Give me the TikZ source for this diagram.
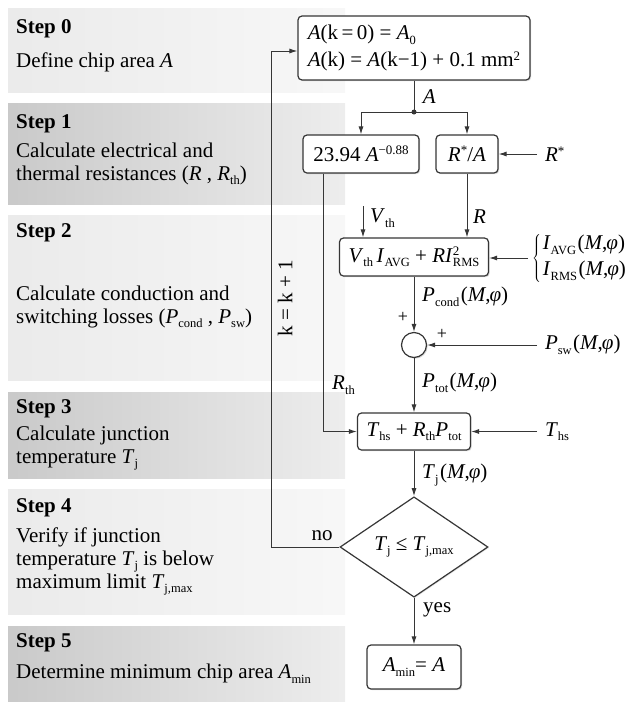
\documentclass[tikz,border=0pt]{standalone}
\usepackage{fontspec}
\setmainfont{Liberation Serif}
\usetikzlibrary{arrows.meta,positioning,shapes.geometric,shadows}

\definecolor{linegray}{HTML}{363636}
% italic variable, sub- and superscripts in the text font
\newcommand{\vr}[1]{\textit{#1}}
\newcommand{\low}[1]{\raisebox{-4.5pt}{\fontsize{12.5}{12.5}\selectfont #1}}
\newcommand{\up}[1]{\raisebox{6.5pt}{\fontsize{13}{13}\selectfont #1}}
\newcommand{\Mphi}{\kern1.5pt(\vr{M},\kern-1pt\vr{φ})}

\begin{document}
\begin{tikzpicture}[
    x=1pt, y=-1pt,
    font=\fontsize{21}{23}\selectfont,
    box/.style={draw=linegray, line width=1.2pt, rounded corners=4pt, fill=white, inner sep=0pt, align=center,
        drop shadow={shadow xshift=1.2pt, shadow yshift=-1.2pt, opacity=0.3}},
    arr/.style={-{Latex[length=8pt,width=5pt]}, line width=1pt, draw=linegray},
    wire/.style={line width=1pt, draw=linegray},
    lbl/.style={anchor=west, inner sep=0pt},
    inlbl/.style={anchor=west, inner sep=0pt, outer sep=8pt},
    darkband/.style={left color=black!21, right color=black!7},
    lightband/.style={left color=black!8, right color=black!3},
    steptitle/.style={font=\fontsize{21}{23}\selectfont\bfseries, anchor=base west, inner sep=0pt},
    stepdesc/.style={anchor=north west, inner sep=0pt, align=left},
]
\useasboundingbox (0,0) rectangle (629,702);

% Step bands
\fill[lightband] (8,8) rectangle (345,92);
\fill[darkband] (8,103) rectangle (345,204);
\fill[lightband] (8,215) rectangle (345,380);
\fill[darkband] (8,392) rectangle (345,478);
\fill[lightband] (8,489) rectangle (345,614);
\fill[darkband] (8,626) rectangle (345,702);

% Step texts
\node[steptitle] (t0) at (16,33) {Step 0};
\node[stepdesc] (d0) at (16,52.5) {Define chip area \vr{A}};
\node[steptitle] (t1) at (16,128) {Step 1};
\node[stepdesc] (d1) at (16,142.4) {Calculate electrical and\\thermal resistances (\vr{R} , \vr{R}\low{th})};
\node[steptitle] (t2) at (16,237) {Step 2};
\node[stepdesc] (d2) at (16,285.7) {Calculate conduction and\\switching losses (\vr{P}\low{cond} , \vr{P}\low{sw})};
\node[steptitle] (t3) at (16,413) {Step 3};
\node[stepdesc] (d3) at (16,425.7) {Calculate junction\\temperature \vr{T}\low{j}};
\node[steptitle] (t4) at (16,512) {Step 4};
\node[stepdesc] (d4) at (16,527.4) {Verify if junction\\temperature \vr{T}\low{j} is below\\maximum limit \vr{T}\low{j,max}};
\node[steptitle] (t5) at (16,647) {Step 5};
\node[stepdesc] (d5) at (16,664) {Determine minimum chip area \vr{A}\low{min}};

% Area update
\node[box, minimum width=232pt, minimum height=64pt, align=left] (init) at (414,48)
    {\vr{A}(k\,=\,0) = \vr{A}\low{0}\\[4pt]\vr{A}(k) = \vr{A}(k−1) + 0.1 mm\up{2}};
\coordinate (split) at (414,112);

% Resistances
\node[box, minimum width=116pt, minimum height=38pt] (resth) at (361,154) {23.94 \vr{A}\up{−0.88}};
\node[box, minimum width=62pt, minimum height=38pt] (relec) at (467,154) {\vr{R}\up{*}/\vr{A}};
\node[inlbl] (rstar) at (537,154) {\vr{R}\up{*}};

% Losses
\node[box, minimum width=149pt, minimum height=38pt] (pcond) at (414,257)
    {\vr{V}\low{th}\,\vr{I}\low{AVG} + \vr{RI}\rlap{\up{2}}\low{RMS}};
\node[inlbl, outer sep=4pt] (icur) at (528,258)
    {$\left\{\kern2pt\begin{tabular}{@{}l@{}}\vr{I}\low{AVG}\Mphi\\[3pt]\vr{I}\low{RMS}\Mphi\end{tabular}\right.$};
\coordinate (vthin) at (363,206);
\node[lbl] (vth) at (370,218) {\vr{V}\low{th}};
\node[lbl] (rlbl) at (473,217) {\vr{R}};
\node[lbl] (pcondlbl) at (422,297) {\vr{P}\low{cond}\Mphi};

% Summing point
\node[circle, draw=linegray, line width=1.2pt, fill=white, minimum size=25pt, inner sep=0pt,
    drop shadow={shadow xshift=1.2pt, shadow yshift=-1.2pt, opacity=0.3}] (sum) at (414,345) {};
\node[font=\fontsize{18}{18}\selectfont, inner sep=0pt] (plus1) at (403,317) {+};
\node[font=\fontsize{18}{18}\selectfont, inner sep=0pt] (plus2) at (442,334) {+};
\node[inlbl] (psw) at (537,345) {\vr{P}\low{sw}\Mphi};
\node[lbl] (ptotlbl) at (422,383) {\vr{P}\low{tot}\Mphi};

% Junction temperature
\node[lbl] (rthlbl) at (332,385) {\vr{R}\low{th}};
\node[box, minimum width=113pt, minimum height=37pt] (tcalc) at (414,431.5)
    {\vr{T}\low{hs} + \vr{R}\low{th}\vr{P}\low{tot}};
\node[inlbl] (ths) at (537,431.5) {\vr{T}\low{hs}};
\node[lbl] (tjlbl) at (422,475) {\vr{T}\low{j}\Mphi};

% Check
\node[diamond, draw=linegray, line width=1.2pt, fill=white, minimum width=148pt, minimum height=92pt, inner sep=0pt,
    drop shadow={shadow xshift=1pt, shadow yshift=-1pt, opacity=0.2}] (check) at (414,547)
    {\vr{T}\low{j} ≤ \vr{T}\low{j,max}};
\node[inner sep=0pt] (nolbl) at (322,535.5) {no};
\node[anchor=base west, inner sep=0pt] (yeslbl) at (423,612.7) {yes};
\coordinate (back) at (271,547);
\node[rotate=90, inner sep=0pt] (incr) at (285,298) {k = k + 1};

% Result
\node[box, minimum width=94pt, minimum height=44pt] (amin) at (414,667) {\vr{A}\low{min}= \vr{A}};

% Arrows
\draw[wire] (init.south) -- node[right=5pt] (albl) {\vr{A}} (split);
\fill[linegray] (split) circle (2.5pt);
\draw[arr] (split) -| (resth.north);
\draw[arr] (split) -| (relec.north);
\draw[arr] (rstar.west) -- (relec.east);
\draw[arr] (relec.south) -- (relec.south |- pcond.north);
\draw[arr] (vthin) -- (vthin |- pcond.north);
\draw[arr] (icur.west) -- (icur.west -| pcond.east);
\draw[arr] (pcond.south) -- (sum.north);
\draw[arr] (psw.west) -- (sum.east);
\draw[arr] (sum.south) -- (tcalc.north);
\draw[arr] ([xshift=-38pt]resth.south) |- (tcalc.west);
\draw[arr] (ths.west) -- (tcalc.east);
\draw[arr] (tcalc.south) -- (check.north);
\draw[arr] (check.south) -- (amin.north);
\draw[arr] (check.west) -- (back) |- ([yshift=-3pt]init.west);
\end{tikzpicture}
\end{document}
